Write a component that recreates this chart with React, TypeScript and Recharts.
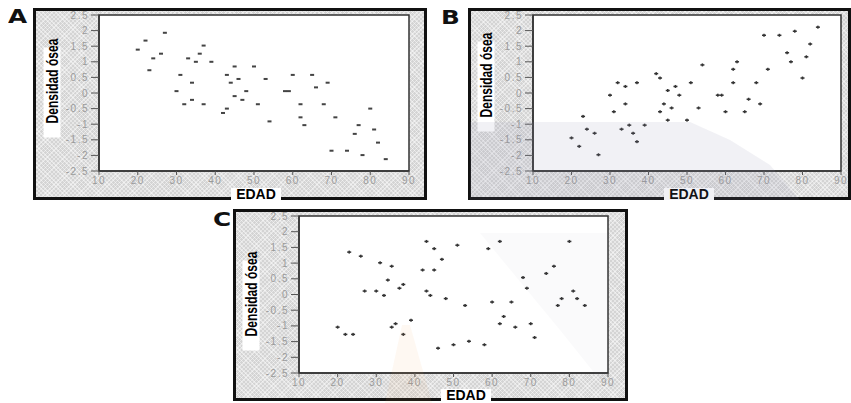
import React from "react";
import { ScatterChart, Scatter, XAxis, YAxis, ReferenceArea } from "recharts";

// edades (años), las mismas en los tres paneles
const edades = [
  20, 22, 23, 24, 26, 27, 30, 31, 32, 33, 34, 34, 35, 36, 37, 37, 39, 42, 43, 43,
  44, 45, 45, 46, 47, 48, 50, 51, 53, 54, 58, 59, 60, 62, 62, 63, 65, 66, 68, 69,
  70, 71, 74, 76, 77, 78, 80, 81, 82, 84,
];

// panel A: correlación negativa
const densidadA = [
  1.39, 1.68, 0.73, 1.11, 1.26, 1.93, 0.06, 0.58, -0.36, 1.11, 0.33, -0.22, 1.0, 1.26, 1.52, -0.36, 1.0, -0.64, -0.5, 0.58,
  0.33, 0.85, -0.1, 0.45, -0.22, 0.06, 0.85, -0.36, 0.45, -0.91, 0.06, 0.06, 0.58, -0.36, -0.78, -1.03, 0.58, 0.18, -0.36, 0.33,
  -1.85, -0.78, -1.85, -1.31, -1.03, -1.99, -0.5, -1.17, -1.59, -2.12,
];

// panel B: correlación positiva
const densidadB = [
  -1.44, -1.71, -0.75, -1.16, -1.29, -1.98, -0.07, -0.6, 0.33, -1.16, 0.21, -0.35, -1.03, -1.29, -1.56, 0.33, -1.03, 0.62, 0.48, -0.6,
  -0.35, 0.08, -0.87, -0.48, 0.21, -0.07, -0.87, 0.33, -0.48, 0.9, -0.07, -0.07, -0.6, 0.33, 0.76, 1.0, -0.6, -0.2, 0.33, -0.35,
  1.85, 0.76, 1.85, 1.29, 1.0, 1.98, 0.48, 1.16, 1.57, 2.11,
];

// panel C: sin correlación
const densidadC = [
  -1.04, -1.27, 1.35, -1.27, 1.22, 0.11, 0.11, 1.01, -0.03, 0.46, 0.9, -1.04, -0.93, 0.2, 0.32, -1.27, -0.82, 0.78, 1.69, 0.11,
  -0.03, 1.46, 0.78, -1.71, 1.12, -0.13, -1.6, 1.57, -0.35, -1.49, -1.6, 1.46, -0.24, 1.69, -0.93, -0.7, -0.24, -1.04, 0.54, 0.2,
  -0.93, -1.37, 0.67, 0.9, -0.35, -0.13, 1.69, 0.11, -0.13, -0.35,
];

const xTicks = [10, 20, 30, 40, 50, 60, 70, 80, 90];
const yTicks = [2.5, 2, 1.5, 1, 0.5, 0, -0.5, -1, -1.5, -2, -2.5];

const hatch = {
  backgroundColor: "#d4d4d4",
  backgroundImage:
    "repeating-linear-gradient(45deg, rgba(255,255,255,0.45) 0 1px, transparent 1px 3px), repeating-linear-gradient(-45deg, rgba(255,255,255,0.45) 0 1px, transparent 1px 3px)",
};

const tickStyle = {
  fill: "#9a9a9a",
  fontSize: 10,
  letterSpacing: 1.5,
  fontFamily: "'Liberation Sans', Arial, sans-serif",
};

const Dash = (props: any) => (
  <rect x={props.cx - 2} y={props.cy - 1} width={4} height={2} fill="#444" />
);

const Cross = (props: any) => (
  <g fill="#333">
    <rect x={props.cx - 2} y={props.cy - 0.75} width={4} height={1.5} />
    <rect x={props.cx - 0.75} y={props.cy - 1.5} width={1.5} height={3} />
  </g>
);

// sombras tenues de la marca de agua del documento
const Tint: React.FC<{ points: string; color: string }> = ({ points, color }) => (
  <div
    style={{
      position: "absolute",
      left: 0,
      top: 0,
      width: 851,
      height: 403,
      background: color,
      clipPath: `polygon(${points})`,
      pointerEvents: "none",
    }}
  />
);

interface PanelProps {
  letter: string;
  left: number;
  top: number;
  width: number;
  height: number;
  yAxisWidth: number;
  right: number;
  plotTop: number;
  xAxisHeight: number;
  valores: number[];
  marker: (p: any) => React.ReactElement;
  yLabel: [number, number];
  xLabel: [number, number];
  letterPos: [number, number];
}

const Panel: React.FC<PanelProps> = (p) => {
  const data = edades.map((e, i) => ({ x: e, y: p.valores[i] }));
  return (
    <>
      <div
        style={{
          position: "absolute",
          left: p.left,
          top: p.top,
          width: p.width,
          height: p.height,
          boxSizing: "border-box",
          border: "3px solid #111",
          ...hatch,
        }}
      >
        <ScatterChart
          width={p.width - 6}
          height={p.height - 6}
          margin={{ top: p.plotTop, right: p.right, bottom: 0, left: 0 }}
        >
          <XAxis
            type="number"
            dataKey="x"
            domain={[10, 90]}
            ticks={xTicks}
            interval={0}
            height={p.xAxisHeight}
            tick={tickStyle}
            tickSize={4}
            tickMargin={2}
            tickLine={{ stroke: "#555" }}
            axisLine={{ stroke: "#333", strokeWidth: 1.5 }}
          />
          <YAxis
            type="number"
            dataKey="y"
            domain={[-2.5, 2.5]}
            ticks={yTicks}
            interval={0}
            width={p.yAxisWidth}
            tick={tickStyle}
            tickSize={8}
            tickMargin={2}
            tickLine={{ stroke: "#555" }}
            axisLine={{ stroke: "#333", strokeWidth: 1.5 }}
          />
          <ReferenceArea
            x1={10}
            x2={90}
            y1={-2.5}
            y2={2.5}
            fill="#fff"
            fillOpacity={1}
            stroke="#333"
            strokeWidth={1.5}
          />
          <Scatter data={data} shape={p.marker} isAnimationActive={false} />
        </ScatterChart>
      </div>
      {/* etiqueta eje Y */}
      <div
        style={{
          position: "absolute",
          left: p.yLabel[0] - 45,
          top: p.yLabel[1] - 9,
          width: 90,
          height: 17,
          background: "#fff",
          transform: "rotate(-90deg)",
          textAlign: "center",
          color: "#000",
          whiteSpace: "nowrap",
          overflow: "visible",
        }}
      >
        <span
          style={{
            display: "inline-block",
            fontFamily: "'Liberation Sans', Arial, sans-serif",
            fontWeight: 700,
            fontSize: 16,
            lineHeight: "17px",
            transform: "scaleX(0.75)",
            transformOrigin: "center",
          }}
        >
          Densidad ósea
        </span>
      </div>
      {/* etiqueta eje X */}
      <div
        style={{
          position: "absolute",
          left: p.xLabel[0] - 25,
          top: p.xLabel[1] - 6,
          width: 50,
          height: 12,
          background: "#fff",
          textAlign: "center",
          fontFamily: "'Liberation Sans', Arial, sans-serif",
          fontWeight: 700,
          fontSize: 14,
          lineHeight: "12px",
          color: "#000",
        }}
      >
        EDAD
      </div>
      <div
        style={{
          position: "absolute",
          left: p.letterPos[0],
          top: p.letterPos[1],
          fontFamily: "'DejaVu Sans', sans-serif",
          fontWeight: 900,
          fontSize: 19,
          lineHeight: "19px",
          color: "#111",
          transform: "scaleX(1.3)",
          transformOrigin: "left top",
        }}
      >
        {p.letter}
      </div>
    </>
  );
};

export default function App() {
  return (
    <div
      style={{
        position: "absolute",
        left: 0,
        top: 0,
        width: 851,
        height: 403,
        background: "#fff",
        overflow: "hidden",
      }}
    >
      <Panel
        letter="A"
        left={33}
        top={8}
        width={394}
        height={192}
        yAxisWidth={63}
        right={15}
        plotTop={4}
        xAxisHeight={26}
        valores={densidadA}
        marker={Dash}
        yLabel={[52, 93]}
        xLabel={[256, 194]}
        letterPos={[8, 7]}
      />
      <Panel
        letter="B"
        left={468}
        top={8}
        width={383}
        height={192}
        yAxisWidth={62}
        right={7}
        plotTop={4}
        xAxisHeight={26}
        valores={densidadB}
        marker={Cross}
        yLabel={[486, 87]}
        xLabel={[689, 194]}
        letterPos={[441, 8]}
      />
      <Panel
        letter="C"
        left={233}
        top={209}
        width={395}
        height={192}
        yAxisWidth={63}
        right={17}
        plotTop={4}
        xAxisHeight={25}
        valores={densidadC}
        marker={Cross}
        yLabel={[251, 306]}
        xLabel={[466, 395]}
        letterPos={[213, 210]}
      />
      <Tint
        points="470px 122px, 690px 122px, 730px 140px, 770px 165px, 800px 200px, 470px 200px"
        color="rgba(140,140,170,0.12)"
      />
      <Tint
        points="480px 233px, 608px 233px, 608px 373px, 600px 380px, 560px 330px"
        color="rgba(120,120,150,0.04)"
      />
      <Tint
        points="402px 325px, 410px 325px, 432px 403px, 385px 403px"
        color="rgba(245,160,90,0.08)"
      />
    </div>
  );
}
